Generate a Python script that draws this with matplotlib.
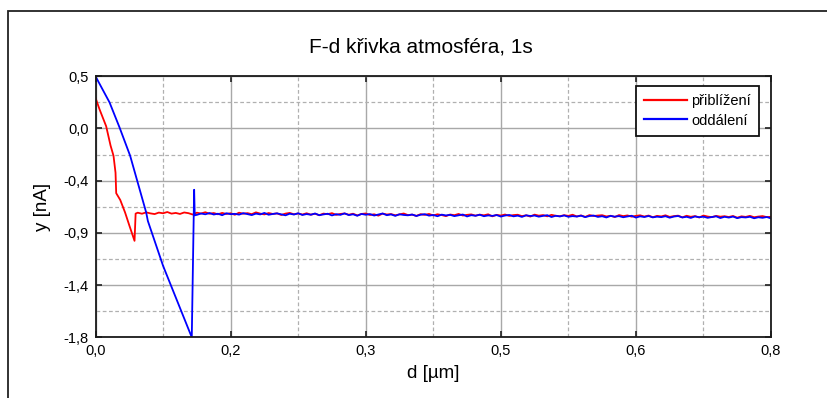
import numpy as np
import matplotlib
matplotlib.use("Agg")
import matplotlib.pyplot as plt
from matplotlib.patches import Rectangle

plt.rcParams['font.family'] = ['Liberation Sans', 'DejaVu Sans']

# --- data ---
# red: approach ("přiblížení"), steep part then noisy plateau
red_head_d = [0.0, 0.0047, 0.0126, 0.0178, 0.0213, 0.0237, 0.0245, 0.0293, 0.0350, 0.0403, 0.0462, 0.0475]
red_head_y = [0.29, 0.19, 0.04, -0.13, -0.22, -0.37, -0.55, -0.61, -0.72, -0.84, -0.97, -0.73]
red_flat_start = 0.050
red_flat_y = [
    -0.722, -0.731, -0.719, -0.728, -0.734, -0.721, -0.727, -0.716, -0.730, -0.724,
    -0.733, -0.720, -0.726, -0.738, -0.722, -0.729, -0.718, -0.731, -0.725, -0.736,
    -0.724, -0.733, -0.727, -0.740, -0.722, -0.731, -0.726, -0.735, -0.719, -0.730,
    -0.737, -0.725, -0.733, -0.728, -0.742, -0.730, -0.724, -0.736, -0.729, -0.738,
    -0.727, -0.739, -0.731, -0.744, -0.730, -0.735, -0.726, -0.741, -0.733, -0.729,
    -0.740, -0.731, -0.746, -0.733, -0.729, -0.742, -0.736, -0.748, -0.730, -0.738,
    -0.734, -0.745, -0.737, -0.729, -0.743, -0.739, -0.750, -0.735, -0.741, -0.733,
    -0.746, -0.736, -0.743, -0.752, -0.738, -0.744, -0.733, -0.747, -0.741, -0.737,
    -0.748, -0.739, -0.745, -0.736, -0.754, -0.741, -0.747, -0.738, -0.750, -0.743,
    -0.740, -0.752, -0.745, -0.756, -0.739, -0.748, -0.743, -0.754, -0.741, -0.749,
    -0.753, -0.744, -0.750, -0.740, -0.755, -0.746, -0.759, -0.743, -0.751, -0.747,
    -0.744, -0.755, -0.749, -0.760, -0.743, -0.752, -0.746, -0.757, -0.750, -0.745,
    -0.756, -0.747, -0.762, -0.750, -0.755, -0.745, -0.759, -0.752, -0.748, -0.763,
    -0.749, -0.758, -0.752, -0.764, -0.747, -0.756, -0.761, -0.750, -0.757, -0.753,
    -0.760, -0.751, -0.766, -0.754, -0.759, -0.750, -0.762, -0.756, -0.752, -0.761,
    -0.758,
]

# blue: retract ("oddálení"), linear drop, snap-off spike, noisy plateau
blue_head_d = [0.0, 0.0166, 0.0284, 0.0410, 0.0600, 0.0620, 0.0800, 0.0897, 0.1140, 0.1168, 0.1175]
blue_head_y = [0.48, 0.25, 0.03, -0.22, -0.72, -0.795, -1.19, -1.37, -1.82, -0.52, -0.745]
blue_flat_start = 0.120
blue_flat_y = [
    -0.741, -0.729, -0.736, -0.725, -0.738, -0.731, -0.744, -0.727, -0.735, -0.732,
    -0.739, -0.726, -0.734, -0.743, -0.730, -0.737, -0.724, -0.740, -0.733, -0.728,
    -0.736, -0.745, -0.731, -0.738, -0.727, -0.742, -0.734, -0.740, -0.729, -0.744,
    -0.737, -0.731, -0.746, -0.735, -0.741, -0.728, -0.743, -0.736, -0.749, -0.733,
    -0.740, -0.734, -0.747, -0.738, -0.729, -0.744, -0.737, -0.750, -0.736, -0.742,
    -0.745, -0.738, -0.751, -0.740, -0.735, -0.748, -0.742, -0.753, -0.739, -0.746,
    -0.741, -0.752, -0.745, -0.738, -0.755, -0.744, -0.749, -0.740, -0.753, -0.746,
    -0.750, -0.743, -0.756, -0.747, -0.742, -0.754, -0.748, -0.759, -0.745, -0.751,
    -0.747, -0.757, -0.750, -0.744, -0.760, -0.749, -0.755, -0.746, -0.758, -0.752,
    -0.756, -0.748, -0.761, -0.751, -0.747, -0.759, -0.753, -0.764, -0.750, -0.757,
    -0.752, -0.762, -0.755, -0.749, -0.765, -0.754, -0.760, -0.751, -0.763, -0.757,
    -0.761, -0.753, -0.766, -0.756, -0.751, -0.764, -0.758, -0.768, -0.755, -0.762,
    -0.757, -0.767, -0.760, -0.754, -0.769, -0.758, -0.765, -0.756, -0.770, -0.761,
    -0.764, -0.758, -0.771, -0.762, -0.767, -0.760, -0.772,
]
step = 0.005

xtick_labels = ['0,0', '0,2', '0,3', '0,5', '0,6', '0,8']
ytick_labels = ['0,5', '0,0', '-0,4', '-0,9', '-1,4', '-1,8']
series_names = ['přiblížení', 'oddálení']

xmin, xmax = 0.0, 0.8
ymin, ymax = -1.82, 0.48

red_d = red_head_d + list(red_flat_start + step * np.arange(len(red_flat_y)))
red_y = red_head_y + red_flat_y
blue_d = blue_head_d + list(blue_flat_start + step * np.arange(len(blue_flat_y)))
blue_y = blue_head_y + blue_flat_y

fig = plt.figure(figsize=(8.27, 3.98), dpi=100)
ax = fig.add_axes([0.1155, 0.1525, 0.8168, 0.6558])

ax.plot(red_d, red_y, color='#ff0000', lw=1.3, label=series_names[0])
ax.plot(blue_d, blue_y, color='#0000ff', lw=1.3, label=series_names[1])

ax.set_xlim(xmin, xmax)
ax.set_ylim(ymin, ymax)

xt = np.linspace(xmin, xmax, 6)
yt = np.linspace(ymax, ymin, 6)
ax.set_xticks(xt)
ax.set_xticklabels(xtick_labels)
ax.set_yticks(yt)
ax.set_yticklabels(ytick_labels)
ax.set_xticks((xt[:-1] + xt[1:]) / 2, minor=True)
ax.set_yticks((yt[:-1] + yt[1:]) / 2, minor=True)

ax.grid(which='major', color='#a8a8a8', lw=1.0, ls='-')
ax.grid(which='minor', color='#b0b0b0', lw=0.9, ls=(0, (3, 2)))
ax.set_axisbelow(True)

ax.tick_params(which='major', direction='in', length=4, width=1.2, color='#202020',
               top=True, right=True, labelsize=10.5, pad=5)
ax.tick_params(which='minor', length=0, top=True, right=True)
for s in ax.spines.values():
    s.set_linewidth(1.3)
    s.set_color('#1a1a1a')

ax.set_xlabel('d [µm]', fontsize=13.5)
ax.set_ylabel('y [nA]', fontsize=13.5)
ax.xaxis.set_label_coords(0.5, -0.105)
ax.yaxis.set_label_coords(-0.066, 0.5)

fig.text(0.509, 0.883, 'F-d křivka atmosféra, 1s', fontsize=15, ha='center', va='center')

leg = ax.legend(loc='upper right', bbox_to_anchor=(0.982, 0.964), borderaxespad=0,
                fontsize=10.5, handlelength=3.0, handletextpad=0.25, labelspacing=0.4,
                borderpad=0.55, fancybox=False, framealpha=1, edgecolor='#111111')
leg.get_frame().set_linewidth(1.3)
for h in leg.get_lines():
    h.set_linewidth(1.6)

# outer frame of the original figure window
fig.patches.append(Rectangle((0.0097, -0.2), 1.2, 1.173, transform=fig.transFigure,
                             fill=False, lw=1.3, ec='#222222'))

fig.savefig('out.png', dpi=100)
